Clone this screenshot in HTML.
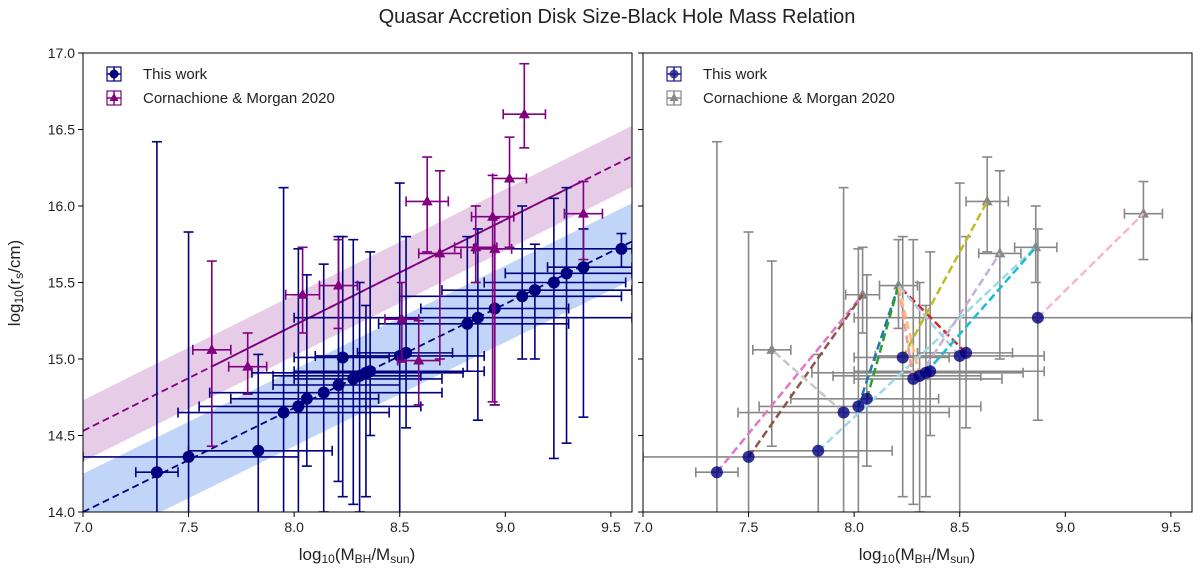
<!DOCTYPE html>
<html><head><meta charset="utf-8"><style>
body{margin:0;background:#fff;}
svg text{font-family:"Liberation Sans","DejaVu Sans",sans-serif;fill:#222;}
</style></head><body>
<svg id="chart" width="1200" height="573" viewBox="0 0 1200 573" xmlns="http://www.w3.org/2000/svg">
<defs>
<clipPath id="clipL"><rect x="83" y="53" width="549" height="459"/></clipPath>
<clipPath id="clipR"><rect x="643" y="53" width="549" height="459"/></clipPath>
</defs>
<text x="617" y="23" font-size="20" text-anchor="middle">Quasar Accretion Disk Size-Black Hole Mass Relation</text>
<g id="gL"></g>
<g id="gR"></g>
</svg>
<script>
// This work: mass, size, errors
const workX = [7.35,7.50,7.83,7.95,8.02,8.06,8.14,8.21,8.23,8.28,8.31,8.34,8.36,8.50,8.53,8.82,8.87,8.95,9.08,9.14,9.23,9.29,9.37,9.55];
const workY = [14.26,14.36,14.40,14.65,14.69,14.74,14.78,14.83,15.01,14.87,14.89,14.91,14.92,15.02,15.04,15.23,15.27,15.33,15.41,15.45,15.50,15.56,15.60,15.72];
const workYLo = [13.9,13.9,13.9,13.9,13.9,14.3,14.0,14.2,14.1,14.05,14.0,14.1,14.5,13.9,14.55,14.92,14.6,14.7,15.0,15.0,14.35,14.45,14.62,15.6];
const workYHi = [16.42,15.83,15.03,16.12,15.72,15.55,15.62,15.8,15.8,15.78,15.5,15.35,15.7,16.15,15.8,15.8,15.85,15.72,16.0,15.75,16.05,16.12,15.85,15.82];
const workXLo = [7.25,7.0,7.5,7.45,7.55,7.7,7.6,7.9,8.0,8.0,7.9,7.8,8.0,8.1,8.3,8.4,8.0,8.6,8.5,8.7,8.9,9.0,9.2,8.85];
const workXHi = [7.45,8.02,8.18,8.45,8.6,8.4,8.7,8.5,8.45,8.7,8.6,8.8,8.9,8.9,8.75,9.3,9.6,9.3,9.55,9.6,9.57,9.6,9.6,9.6];
// Cornachione & Morgan 2020
const cmX = [7.61,7.78,8.04,8.21,8.51,8.59,8.63,8.69,8.86,8.94,8.95,9.02,9.09,9.37];
const cmY = [15.06,14.95,15.42,15.48,15.26,14.99,16.03,15.69,15.73,15.93,15.72,16.18,16.60,15.95];
const cmYLo = [14.43,14.77,15.17,15.2,14.98,14.7,15.7,15.0,15.5,14.72,14.7,15.73,16.38,15.65];
const cmYHi = [15.64,15.17,15.73,15.78,15.5,15.25,16.32,16.23,16.0,16.2,15.92,16.45,16.93,16.16];
const cmXErr = [0.09,0.09,0.08,0.09,0.08,0.1,0.1,0.1,0.1,0.1,0.08,0.08,0.1,0.09];
// Right panel matched subset
const rWorkIdx = [0,1,2,3,4,5,8,9,10,11,12,13,14,16];
const rCmIdx = [0,2,3,6,7,8,13];
// connections: work index, cm index, colour
const linkWork = [0,1,3,2,4,5,9,10,14,13,8,10,11,16];
const linkCm = [2,2,0,8,3,3,3,3,3,3,6,7,8,13];
const linkColor = ["#e377c2","#8c564b","#c7c7c7","#9edae5","#1f77b4","#2ca02c","#ff9896","#ffbb78","#d62728","#aec7e8","#bcbd22","#c5b0d5","#17becf","#f7b6d2"];
// fits
const fitBlue = [14.0, 0.68];
const fitBlueBand = 0.25;
const fitPurple = [14.53, 0.69];
const fitPurpleBand = 0.2;
const xTicks = [7.0,7.5,8.0,8.5,9.0,9.5];
const yTicks = [14.0,14.5,15.0,15.5,16.0,16.5,17.0];

const NS="http://www.w3.org/2000/svg";
function mk(tag, attrs, parent){const e=document.createElementNS(NS,tag);for(const k in attrs)e.setAttribute(k,attrs[k]);parent.appendChild(e);return e;}
const Y0=53,Y1=512;
function sy(v){return Y1-(v-14)/(17-14)*(Y1-Y0);}
function makeSx(x0){return v=>x0+(v-7)/(9.6-7)*549;}

function errbar(g,sx,x,y,xl,xh,yl,yh,col,w){
  const cap=5;
  mk('line',{x1:sx(x),x2:sx(x),y1:sy(yl),y2:sy(yh),stroke:col,'stroke-width':w},g);
  mk('line',{x1:sx(xl),x2:sx(xh),y1:sy(y),y2:sy(y),stroke:col,'stroke-width':w},g);
  [yl,yh].forEach(v=>mk('line',{x1:sx(x)-cap,x2:sx(x)+cap,y1:sy(v),y2:sy(v),stroke:col,'stroke-width':w},g));
  [xl,xh].forEach(v=>mk('line',{x1:sx(v),x2:sx(v),y1:sy(y)-cap,y2:sy(y)+cap,stroke:col,'stroke-width':w},g));
}
function tri(g,cx,cy,col,name){
  const t=mk('polygon',{points:`${cx},${cy-6} ${cx-5.5},${cy+4} ${cx+5.5},${cy+4}`,fill:col},g);
  
  
}
function axes(g,x0,showY){
  const sx=makeSx(x0);
  mk('rect',{x:x0,y:Y0,width:549,height:Y1-Y0,fill:'none',stroke:'#000','stroke-width':1},g);
  xTicks.forEach(t=>{mk('line',{x1:sx(t),x2:sx(t),y1:Y1,y2:Y1+5,stroke:'#000'},g);
    const tx=mk('text',{x:sx(t),y:Y1+20,'font-size':14,'text-anchor':'middle'},g);tx.textContent=t.toFixed(1);
    });
  yTicks.forEach(t=>{mk('line',{x1:x0-5,x2:x0,y1:sy(t),y2:sy(t),stroke:'#000'},g);
    if(showY){const tx=mk('text',{x:x0-8,y:sy(t)+5,'font-size':14,'text-anchor':'end'},g);tx.textContent=t.toFixed(1);
    }});
  const xl=mk('text',{x:x0+274,y:560,'font-size':17,'text-anchor':'middle'},g);
  xl.innerHTML='log<tspan font-size="12" dy="3">10</tspan><tspan dy="-3">(M</tspan><tspan font-size="12" dy="3">BH</tspan><tspan dy="-3">/M</tspan><tspan font-size="12" dy="3">sun</tspan><tspan dy="-3">)</tspan>';
  
}
function legend(g,x0,cWork,cCm,op){
  const lg=mk('g',{},g);
  const mx=x0+31;
  [[74,cWork,'This work',0],[98,cCm,'Cornachione & Morgan 2020',1]].forEach(([yy,c,l,isTri])=>{
    mk('line',{x1:mx-7,x2:mx+7,y1:yy,y2:yy,stroke:c,'stroke-width':1.5},lg);
    mk('line',{x1:mx,x2:mx,y1:yy-7,y2:yy+7,stroke:c,'stroke-width':1.5},lg);
    mk('rect',{x:mx-7,y:yy-7,width:14,height:14,fill:'none',stroke:c,'stroke-width':1.2},lg);
    if(isTri) mk('polygon',{points:`${mx},${yy-5} ${mx-4.5},${yy+3} ${mx+4.5},${yy+3}`,fill:c},lg);
    else mk('circle',{cx:mx,cy:yy,r:4.5,fill:c,'fill-opacity':op},lg);
    const t=mk('text',{x:x0+60,y:yy+5,'font-size':15},lg);t.textContent=l;
    
  });
}
// LEFT
(function(){
  const g=document.getElementById('gL');const sx=makeSx(83);
  const c=mk('g',{'clip-path':'url(#clipL)'},g);
  function band(fit,hw,col,op,name){
    const a=fit[0],b=fit[1];const y=x=>a+b*(x-7);
    const p=mk('polygon',{points:`${sx(7)},${sy(y(7)+hw)} ${sx(9.6)},${sy(y(9.6)+hw)} ${sx(9.6)},${sy(y(9.6)-hw)} ${sx(7)},${sy(y(7)-hw)}`,fill:col,'fill-opacity':op},c);
    
  }
  band(fitBlue,fitBlueBand,'#6495ed',0.4,'blue-fit-band');
  band(fitPurple,fitPurpleBand,'#800080',0.2,'purple-fit-band');
  const yb=x=>fitBlue[0]+fitBlue[1]*(x-7), yp=x=>fitPurple[0]+fitPurple[1]*(x-7);
  const l1=mk('line',{x1:sx(7),y1:sy(yb(7)),x2:sx(9.6),y2:sy(yb(9.6)),stroke:'#000080','stroke-width':1.8,'stroke-dasharray':'7,4'},c);
  
  const pmin=Math.min(...cmX),pmax=Math.max(...cmX);
  mk('line',{x1:sx(7),y1:sy(yp(7)),x2:sx(9.6),y2:sy(yp(9.6)),stroke:'#800080','stroke-width':1.8,'stroke-dasharray':'7,4'},c);
  const l2=mk('line',{x1:sx(pmin),y1:sy(yp(pmin)),x2:sx(pmax),y2:sy(yp(pmax)),stroke:'#800080','stroke-width':1.8},c);
  
  workX.forEach((x,i)=>{
    const gg=mk('g',{},c);
    errbar(gg,sx,x,workY[i],workXLo[i],workXHi[i],workYLo[i],workYHi[i],'#000080',1.6);
    mk('circle',{cx:sx(x),cy:sy(workY[i]),r:6,fill:'#000080'},gg);
  });
  cmX.forEach((x,i)=>{
    const gg=mk('g',{},c);
    errbar(gg,sx,x,cmY[i],x-cmXErr[i],x+cmXErr[i],cmYLo[i],cmYHi[i],'#800080',1.6);
    tri(gg,sx(x),sy(cmY[i]),'#800080','cm2020-marker');
  });
  axes(g,83,true);
  legend(g,83,'#000080','#800080',1);
  const yl=mk('text',{transform:'translate(20,283) rotate(-90)','font-size':17,'text-anchor':'middle'},g);
  yl.innerHTML='log<tspan font-size="12" dy="3">10</tspan><tspan dy="-3">(r</tspan><tspan font-size="12" dy="3">s</tspan><tspan dy="-3">/cm)</tspan>';
  
})();
// RIGHT
(function(){
  const g=document.getElementById('gR');const sx=makeSx(643);
  const c=mk('g',{'clip-path':'url(#clipR)'},g);
  rWorkIdx.forEach(i=>{
    const gg=mk('g',{},c);
    errbar(gg,sx,workX[i],workY[i],workXLo[i],workXHi[i],workYLo[i],workYHi[i],'#888',1.6);
  });
  rCmIdx.forEach(i=>{
    const gg=mk('g',{},c);
    errbar(gg,sx,cmX[i],cmY[i],cmX[i]-cmXErr[i],cmX[i]+cmXErr[i],cmYLo[i],cmYHi[i],'#888',1.6);
    tri(gg,sx(cmX[i]),sy(cmY[i]),'#888','cm2020-marker');
  });
  linkWork.forEach((w,k)=>{
    const cm=linkCm[k];
    const l=mk('line',{x1:sx(workX[w]),y1:sy(workY[w]),x2:sx(cmX[cm]),y2:sy(cmY[cm]),stroke:linkColor[k],'stroke-width':2.5,'stroke-dasharray':'8,4'},c);
    
  });
  rWorkIdx.forEach(i=>{
    const p=mk('circle',{cx:sx(workX[i]),cy:sy(workY[i]),r:6,fill:'#000080','fill-opacity':0.8},c);
    
  });
  axes(g,643,false);
  legend(g,643,'#1a1a8c','#888',0.8);
})();
</script>
</body></html>
